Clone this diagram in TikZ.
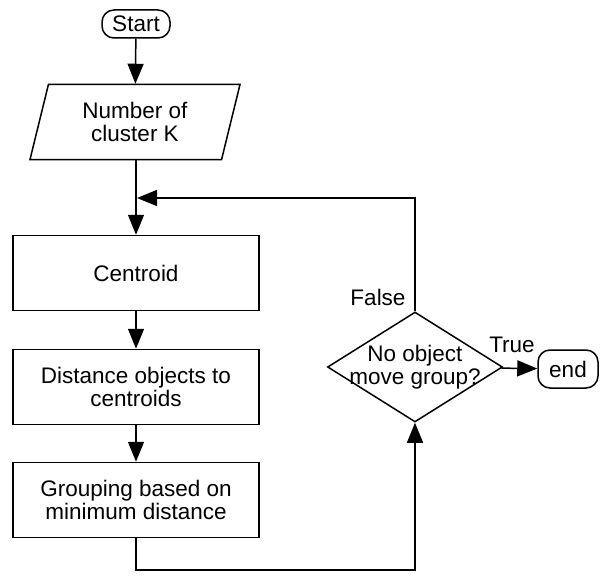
\documentclass[tikz,border=0pt]{standalone}
\usepackage{fontspec}
\setmainfont{Liberation Sans}
\usetikzlibrary{shapes.geometric, arrows.meta, positioning}

\begin{document}
\begin{tikzpicture}
  [
    x=1pt, y=-1pt,
    font=\fontsize{22.5}{23}\selectfont,
    Terminal/.style={rectangle, rounded corners=12pt, draw=black, line width=1.5pt, inner sep=0pt},
    Data/.style={trapezium, trapezium left angle=65, trapezium right angle=115, trapezium stretches body,
      draw=black, line width=1.5pt, minimum width=210pt, minimum height=75pt, inner sep=0pt, align=center},
    Process/.style={rectangle, draw=black, line width=1.5pt, minimum width=246pt, minimum height=75pt, inner sep=0pt, align=center},
    Decision/.style={diamond, aspect=1.6, draw=black, line width=1.5pt, minimum width=175pt, minimum height=110pt, inner sep=-6pt, align=center},
    Flow/.style={-{Triangle[length=20pt, width=16pt]}, line width=1.5pt}
  ]
  \useasboundingbox (0,0) rectangle (600,578);
  % Nodes
  \node[Terminal, minimum width=68pt, minimum height=28pt] (start) at (136, 24) {Start};
  \node[Data] (number) at (135, 122) {Number of\\cluster K};
  \node[Process] (centroid) at (136, 273) {Centroid};
  \node[Process] (distance) at (136, 387) {Distance objects to\\centroids};
  \node[Process] (grouping) at (136, 500) {Grouping based on\\minimum distance};
  \node[Decision] (check) at (415, 367) {No object\\move group?};
  \node[Terminal, minimum width=60pt, minimum height=38pt] (end) at (568, 369) {end};
  \coordinate (join) at (137, 198);
  \coordinate (bend) at (136, 570);
  % Labels
  \node (false) at (378, 297) {False};
  \node (true) at (512, 345) {True};
  % Lines
  \draw[Flow] (start) -- (number);
  \draw[Flow] (number.south -| centroid.north) -- (centroid);
  \draw[Flow] (centroid) -- (distance);
  \draw[Flow] (distance) -- (grouping);
  \draw[Flow] (grouping) -- (bend) -| (check);
  \draw[Flow] (check) |- (join);
  \draw[Flow] (check) -- (end);
\end{tikzpicture}
\end{document}
